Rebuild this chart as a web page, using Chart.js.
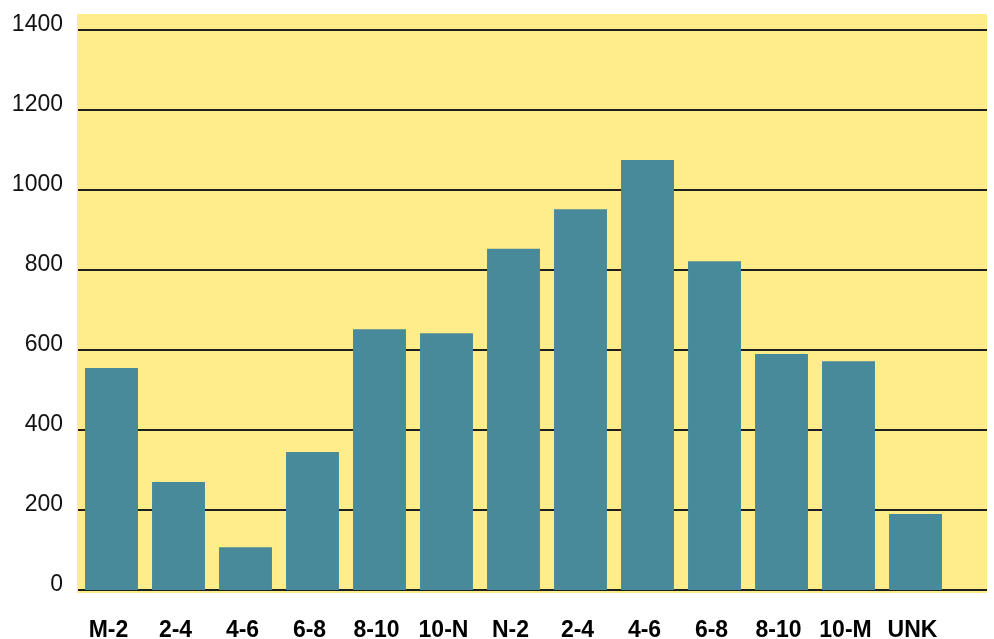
<!DOCTYPE html>
<html>
<head>
<meta charset="utf-8">
<script src="https://cdn.jsdelivr.net/npm/chart.js@4/dist/chart.umd.min.js"></script>
<style>
  html, body { margin: 0; padding: 0; background: #ffffff; }
  #wrap { width: 994px; height: 639px; position: relative; }
</style>
</head>
<body>
<div id="wrap"><canvas id="chart" width="994" height="639"></canvas></div>
<script>
// Time-of-day buckets (two-hour slots, midnight to midnight, plus unknown)
const timeSlots = ['M-2', '2-4', '4-6', '6-8', '8-10', '10-N', 'N-2', '2-4', '4-6', '6-8', '8-10', '10-M', 'UNK'];
// Count per slot
const counts = [555, 270, 107, 345, 652, 642, 853, 952, 1075, 822, 590, 572, 190];
// Value axis ticks
const yTicks = [0, 200, 400, 600, 800, 1000, 1200, 1400];

const PLOT_BG = '#FFEC8B';
const BAR_COLOR = '#488A99';
const GRID_COLOR = '#1f1f1f';

// Paints the yellow plot panel (a little wider than the category axis) and
// the horizontal rules at each tick, before the bars go on top.
const panelPlugin = {
  id: 'panel',
  beforeDatasetsDraw(chart) {
    const { ctx, chartArea, scales } = chart;
    const left = chartArea.left - 1;
    const right = 987;
    const top = chartArea.top;
    const bottom = chartArea.bottom;
    ctx.save();
    ctx.fillStyle = PLOT_BG;
    ctx.fillRect(left, top, right - left, bottom - top);
    ctx.fillStyle = GRID_COLOR;
    yTicks.forEach(v => {
      const y = Math.round(scales.y.getPixelForValue(v));
      ctx.fillRect(chartArea.left, y - 1, right - chartArea.left, 2);
    });
    ctx.restore();
  }
};

new Chart(document.getElementById('chart'), {
  type: 'bar',
  data: {
    labels: timeSlots,
    datasets: [{
      data: counts,
      backgroundColor: BAR_COLOR,
      borderWidth: 0,
      barPercentage: 0.79,
      categoryPercentage: 1.0
    }]
  },
  options: {
    responsive: false,
    animation: false,
    devicePixelRatio: 1,
    layout: { padding: { left: 0, right: 45, top: 14, bottom: 0 } },
    plugins: {
      legend: { display: false },
      tooltip: { enabled: false }
    },
    scales: {
      x: {
        offset: true,
        grid: { display: false, drawTicks: false },
        border: { display: false },
        ticks: {
          color: '#000000',
          font: { family: '"Liberation Sans", Arial, sans-serif', size: 23, weight: 'bold' },
          padding: 24,
          labelOffset: -3,
          maxRotation: 0,
          autoSkip: false
        },
        afterFit(scale) {
          scale.height = 46;
          scale.paddingLeft = 0;
          scale.paddingRight = 0;
        }
      },
      y: {
        min: -7.5,
        max: 1440,
        grid: { display: false, drawTicks: false },
        border: { display: false },
        afterBuildTicks(scale) {
          scale.ticks = yTicks.map(v => ({ value: v }));
        },
        afterFit(scale) {
          scale.width = 78;
          scale.paddingTop = 0;
          scale.paddingBottom = 0;
        },
        ticks: {
          color: '#111111',
          font: { family: '"Liberation Sans", Arial, sans-serif', size: 23 },
          padding: 15,
          labelOffset: -5,
          callback: v => String(v)
        }
      }
    }
  },
  plugins: [panelPlugin]
});
</script>
</body>
</html>
